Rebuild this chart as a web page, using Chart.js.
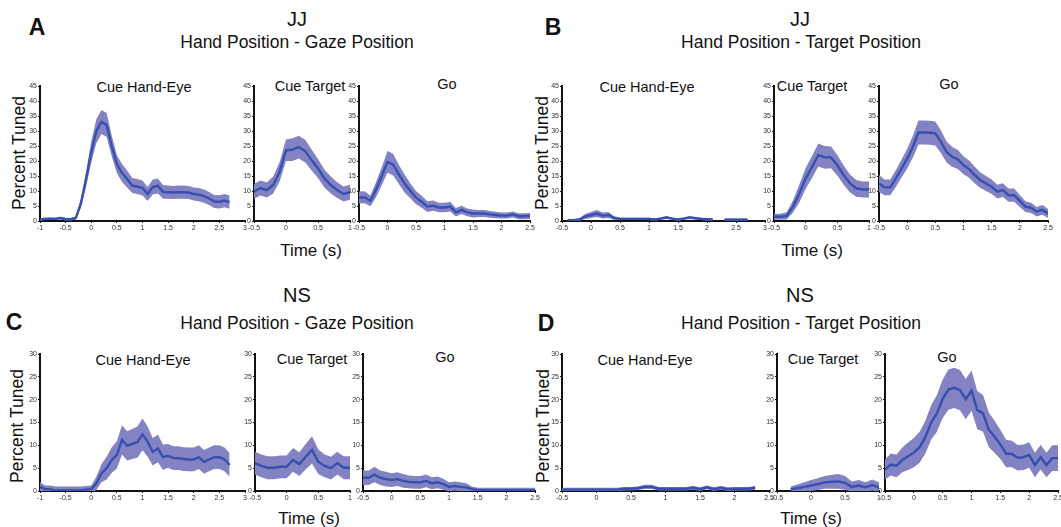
<!DOCTYPE html>
<html>
<head>
<meta charset="utf-8">
<script src="https://cdn.jsdelivr.net/npm/chart.js@4.4.1/dist/chart.umd.min.js"></script>
<style>
  body { margin: 0; width: 1061px; height: 527px; overflow: hidden; background: #fff; position: relative;
         font-family: "Liberation Sans", Arial, sans-serif; }
  canvas { position: absolute; }
  .t { position: absolute; transform: translate(-50%, -50%); white-space: nowrap; color: #111; }
  .letter { font-weight: bold; font-size: 23px; }
  .name { font-size: 20px; }
  .sub { font-size: 17.5px; }
  .ttl { font-size: 14.5px; }
  .xl { font-size: 17px; }
  .yl { font-size: 17.5px; transform: translate(-50%, -50%) rotate(-90deg); }
</style>
</head>
<body>
<div class="t letter" style="left:37px;top:27px">A</div>
<div class="t letter" style="left:553px;top:27px">B</div>
<div class="t letter" style="left:14px;top:322px">C</div>
<div class="t letter" style="left:546px;top:323px">D</div>

<div class="t name" style="left:297px;top:19px">JJ</div>
<div class="t sub" style="left:297px;top:42px">Hand Position - Gaze Position</div>
<div class="t name" style="left:800px;top:19px">JJ</div>
<div class="t sub" style="left:801px;top:42px">Hand Position - Target Position</div>
<div class="t name" style="left:297px;top:295px">NS</div>
<div class="t sub" style="left:297px;top:323px">Hand Position - Gaze Position</div>
<div class="t name" style="left:800px;top:295px">NS</div>
<div class="t sub" style="left:801px;top:323px">Hand Position - Target Position</div>

<div class="t yl" style="left:19px;top:153px">Percent Tuned</div>
<div class="t yl" style="left:542px;top:153px">Percent Tuned</div>
<div class="t yl" style="left:17px;top:426px">Percent Tuned</div>
<div class="t yl" style="left:543px;top:426px">Percent Tuned</div>

<div class="t xl" style="left:311px;top:251px">Time (s)</div>
<div class="t xl" style="left:812px;top:251px">Time (s)</div>
<div class="t xl" style="left:309px;top:519px">Time (s)</div>
<div class="t xl" style="left:811px;top:519px">Time (s)</div>

<div class="t ttl" style="left:144px;top:87px">Cue Hand-Eye</div>
<div class="t ttl" style="left:310px;top:86px">Cue Target</div>
<div class="t ttl" style="left:447px;top:84px">Go</div>
<div class="t ttl" style="left:647px;top:87px">Cue Hand-Eye</div>
<div class="t ttl" style="left:812px;top:86px">Cue Target</div>
<div class="t ttl" style="left:949px;top:84px">Go</div>
<div class="t ttl" style="left:143px;top:360px">Cue Hand-Eye</div>
<div class="t ttl" style="left:312px;top:359px">Cue Target</div>
<div class="t ttl" style="left:445px;top:357px">Go</div>
<div class="t ttl" style="left:645px;top:360px">Cue Hand-Eye</div>
<div class="t ttl" style="left:823px;top:359px">Cue Target</div>
<div class="t ttl" style="left:947px;top:357px">Go</div>

<script>
// time step of every series is 0.1 s, starting at the first value listed
const STEP = 0.1;

// JJ, hand - gaze
const jjGazeCueStart = -1;
const jjGazeCueMean = [0.5,0.7,0.8,0.7,1.0,0.6,0.6,1.0,6,14,23,30,33,32,25,19,16,14,11.8,11.5,11,9,11.3,11.7,9.7,9.6,9.5,9.6,9.6,9.5,9.0,8.8,8.3,7.5,6.5,6.4,6.8,6.3];
const jjGazeCueErr  = [0.4,0.4,0.4,0.4,0.4,0.4,0.4,0.5,1.5,2.5,3.5,4,4,4,3.5,3,3,2.8,2.5,2.5,2.5,2.3,2.5,2.5,2.3,2.2,2.2,2.2,2.2,2.2,2.2,2.2,2.2,2.2,2.2,2.2,2.2,2.2];
const jjGazeTgtStart = -0.5;
const jjGazeTgtMean = [9.8,11,10.3,12,16.4,23.6,23.8,24.6,23.3,20.3,17.5,14.2,12,10.3,9,9.6];
const jjGazeTgtErr  = [2.5,2.5,2.5,2.8,3.2,3.6,3.8,3.8,3.8,3.5,3.2,3,2.8,2.6,2.5,2.5];
const jjGazeGoStart = -0.5;
const jjGazeGoMean = [7.8,7.9,6.7,10.5,15,19.7,18.8,15.5,12.5,10.1,7.8,6.4,4.8,5.1,4.5,4.5,4.8,2.9,3.7,2.9,2.5,2.5,2.5,2.2,2,1.8,1.8,2.2,1.6,1.6,1.7];
const jjGazeGoErr  = [2,2,1.8,2.5,3,3.6,3.6,3.2,3,2.5,2.2,2,1.8,1.7,1.6,1.6,1.6,1.4,1.4,1.3,1.3,1.2,1.2,1.1,1.1,1,1,1,1,1,1];

// JJ, hand - target
const jjTgtCueStart = -0.5;
const jjTgtCueMean = [null,0.3,0.3,0.5,1.5,2,2.5,1.8,2.0,1.0,0.7,0.7,0.7,0.7,0.7,0.7,0.5,0.8,1.2,0.8,0.5,0.8,1.2,0.9,0.7,0.6,0.5,null,0.4,0.4,0.4,0.4,0.4];
const jjTgtCueErr  = [null,0.3,0.3,0.4,0.8,1.0,1.2,1.0,1.0,0.6,0.4,0.4,0.4,0.4,0.4,0.4,0.4,0.4,0.5,0.4,0.4,0.4,0.5,0.4,0.4,0.4,0.4,null,0.4,0.4,0.4,0.4,0.4];
const jjTgtTgtStart = -0.5;
const jjTgtTgtMean = [1.4,1.4,1.7,4.8,9.2,14.2,18,22,21.2,21.2,18.6,15.3,12.5,10.9,10.5,10.5];
const jjTgtTgtErr  = [1,1,1.2,2,3,3.5,3.7,3.8,3.8,3.6,3.4,3.2,3,2.8,2.7,2.7];
const jjTgtGoStart = -0.5;
const jjTgtGoMean = [12.5,11.2,11.2,14.2,17.5,20.8,24.7,29.5,29.5,29.4,29.2,26.4,23,21.4,20.5,18.6,17.3,15.3,13.6,12.5,11.4,9.8,10.3,8.6,8.6,6.7,4.8,4.4,3.1,3.7,2.5];
const jjTgtGoErr  = [2.8,2.6,2.6,2.8,3,3.3,3.6,4,4,4,4,3.8,3.5,3.3,3.2,3,2.9,2.8,2.6,2.5,2.4,2.3,2.3,2.2,2.2,2,1.8,1.7,1.6,1.6,1.5];

// NS, hand - gaze
const nsGazeCueStart = -1;
const nsGazeCueMean = [0.95,0.4,0.4,0.1,0.1,0.1,0.1,0.1,0.1,0.3,0.4,1.7,3.9,5,6.8,7.9,11.2,9.9,10.3,10.7,12.4,10.8,8.6,9.3,7.4,7.7,7.2,7.2,7.0,6.9,6.9,7.4,6.4,6.9,7.4,7.4,6.9,5.7];
const nsGazeCueErr  = [1,0.8,0.8,0.9,0.9,0.9,0.9,0.9,0.9,0.8,0.8,1.5,2,2.5,2.8,3,3.2,3.2,3.3,3.4,3.5,3.3,3,3,2.8,2.6,2.6,2.6,2.6,2.6,2.6,2.6,2.6,2.6,2.6,2.6,2.6,2.6];
const nsGazeTgtStart = -0.5;
const nsGazeTgtMean = [6.1,5.5,5.1,5.1,5.3,5.3,6.8,5.9,7.5,9.0,6.4,5.5,5.0,6.1,5.1,5.1];
const nsGazeTgtErr  = [2.5,2.5,2.5,2.5,2.5,2.5,2.6,2.6,2.8,3,2.7,2.5,2.5,2.5,2.5,2.5];
const nsGazeGoStart = -0.5;
const nsGazeGoMean = [2.9,2.9,3.6,2.9,2.6,2.4,2.6,2.2,2,1.9,1.9,2.2,1.7,1.9,1.5,0.9,1.1,0.9,0.8,0.4,0.2,0.2,0.2,0.2,0.2,0.2,0.2,0.2,0.2,0.2,0.2];
const nsGazeGoErr  = [1.6,1.6,1.7,1.6,1.6,1.5,1.5,1.5,1.4,1.4,1.4,1.4,1.3,1.3,1.2,1.0,1.0,1.0,0.9,0.6,0.5,0.5,0.5,0.5,0.5,0.5,0.5,0.5,0.5,0.5,0.5];

// NS, hand - target
const nsTgtCueStart = -0.5;
const nsTgtCueMean = [0.3,0.3,0.3,0.3,0.3,0.3,0.3,0.3,0.3,0.5,0.5,0.6,0.9,0.9,0.5,0.5,0.5,0.5,0.5,0.7,0.4,0.8,0.4,0.7,0.4,0.5,0.5,0.5,0.7];
const nsTgtCueErr  = [0.4,0.4,0.4,0.4,0.4,0.4,0.4,0.4,0.4,0.4,0.4,0.4,0.45,0.45,0.4,0.4,0.4,0.4,0.4,0.4,0.4,0.4,0.4,0.4,0.4,0.4,0.4,0.4,0.4];
const nsTgtTgtStart = -0.5;
const nsTgtTgtMean = [null,null,0.4,0.6,0.9,1.2,1.5,1.9,2.0,2.1,1.8,0.9,1.2,0.8,1.3,0.8];
const nsTgtTgtErr  = [null,null,0.6,0.8,1,1.2,1.3,1.4,1.5,1.6,1.5,1.2,1.2,1.1,1.2,1.1];
const nsTgtGoStart = -0.5;
const nsTgtGoMean = [4.7,5.8,5.5,6.8,7.6,8.4,9.6,11.8,15,17,20.2,22.2,22.6,22.1,20.1,22,17.7,17,13.4,11.9,10.2,8.2,8.1,7.3,7.4,7.9,5.7,7.4,5.7,7.2,7.2];
const nsTgtGoErr  = [2.2,2.4,2.5,2.7,3,3.2,3.4,3.6,3.8,4,4.2,4.4,4.4,4.4,4.4,4.4,4.2,4,3.8,3.5,3.2,3,2.9,2.8,2.8,2.8,2.7,2.7,2.7,2.8,2.8];

const yTicksJJ = 45;
const yTicksNS = 30;

const LINE = "#3650b0";
const BAND = "#8383c3";

Chart.defaults.font.family = '"Liberation Sans", Arial, sans-serif';

// tick labels like matlab: -1, -0.5, 0, 0.5 ...
function tickLabel(v) {
  return String(Math.round(v * 10) / 10);
}

// draws one small axis; box = [left, right, top, bottom] of the plot area
function drawAxes(box, xr, yMax, t0, mean, err) {
  const padL = 18, padR = 8, padT = 6, padB = 14;
  const cv = document.createElement("canvas");
  cv.width = box[1] - box[0] + padL + padR;
  cv.height = box[3] - box[2] + padT + padB;
  cv.style.left = (box[0] - padL) + "px";
  cv.style.top = (box[2] - padT) + "px";
  document.body.appendChild(cv);

  const pts = (f) => mean.map((v, i) => ({
    x: +(t0 + i * STEP).toFixed(2),
    y: v == null ? null : f(v, err[i])
  }));

  const axisCommon = {
    grid: { drawOnChartArea: false, tickLength: 2, color: "#111", lineWidth: 1 },
    border: { color: "#111", width: 2 },
  };

  new Chart(cv, {
    type: "line",
    data: {
      datasets: [
        // band (upper filled down to lower), mean line drawn on top via order
        { data: pts((m, e) => m + e), borderWidth: 0, pointRadius: 0, fill: "+1", backgroundColor: BAND, spanGaps: false, order: 2 },
        { data: pts((m, e) => m - e), borderWidth: 0, pointRadius: 0, fill: false, spanGaps: false, order: 3 },
        { data: pts((m) => m), borderColor: LINE, borderWidth: 2.4, pointRadius: 0, fill: false, spanGaps: false, order: 0 }
      ]
    },
    options: {
      responsive: false,
      animation: false,
      events: [],
      layout: { padding: { left: 0, right: padR, top: padT, bottom: 0 } },
      plugins: { legend: { display: false }, tooltip: { enabled: false } },
      scales: {
        x: Object.assign({}, axisCommon, {
          type: "linear", min: xr[0], max: xr[1],
          afterFit: (s) => { s.height = padB; },
          ticks: { stepSize: 0.5, font: { size: 7 }, color: "#333", padding: 1, maxRotation: 0, autoSkip: false, callback: tickLabel }
        }),
        y: Object.assign({}, axisCommon, {
          min: 0, max: yMax,
          afterFit: (s) => { s.width = padL; },
          ticks: { stepSize: 5, font: { size: 7 }, color: "#333", padding: 1 }
        })
      }
    }
  });
}

// A
drawAxes([40, 245, 86, 221], [-1, 3], yTicksJJ, jjGazeCueStart, jjGazeCueMean, jjGazeCueErr);
drawAxes([254, 350, 86, 221], [-0.5, 1], yTicksJJ, jjGazeTgtStart, jjGazeTgtMean, jjGazeTgtErr);
drawAxes([359, 530, 86, 221], [-0.5, 2.5], yTicksJJ, jjGazeGoStart, jjGazeGoMean, jjGazeGoErr);
// B
drawAxes([562, 765, 86, 221], [-0.5, 3], yTicksJJ, jjTgtCueStart, jjTgtCueMean, jjTgtCueErr);
drawAxes([774, 869, 86, 221], [-0.5, 1], yTicksJJ, jjTgtTgtStart, jjTgtTgtMean, jjTgtTgtErr);
drawAxes([879, 1048, 86, 221], [-0.5, 2.5], yTicksJJ, jjTgtGoStart, jjTgtGoMean, jjTgtGoErr);
// C
drawAxes([40, 245, 354, 491], [-1, 3], yTicksNS, nsGazeCueStart, nsGazeCueMean, nsGazeCueErr);
drawAxes([255, 350, 354, 491], [-0.5, 1], yTicksNS, nsGazeTgtStart, nsGazeTgtMean, nsGazeTgtErr);
drawAxes([363, 535, 354, 491], [-0.5, 2.5], yTicksNS, nsGazeGoStart, nsGazeGoMean, nsGazeGoErr);
// D
drawAxes([562, 769, 354, 491], [-0.5, 2.5], yTicksNS, nsTgtCueStart, nsTgtCueMean, nsTgtCueErr);
drawAxes([777, 879, 354, 491], [-0.5, 1], yTicksNS, nsTgtTgtStart, nsTgtTgtMean, nsTgtTgtErr);
drawAxes([885, 1058, 354, 491], [-0.5, 2.5], yTicksNS, nsTgtGoStart, nsTgtGoMean, nsTgtGoErr);
</script>
</body>
</html>
